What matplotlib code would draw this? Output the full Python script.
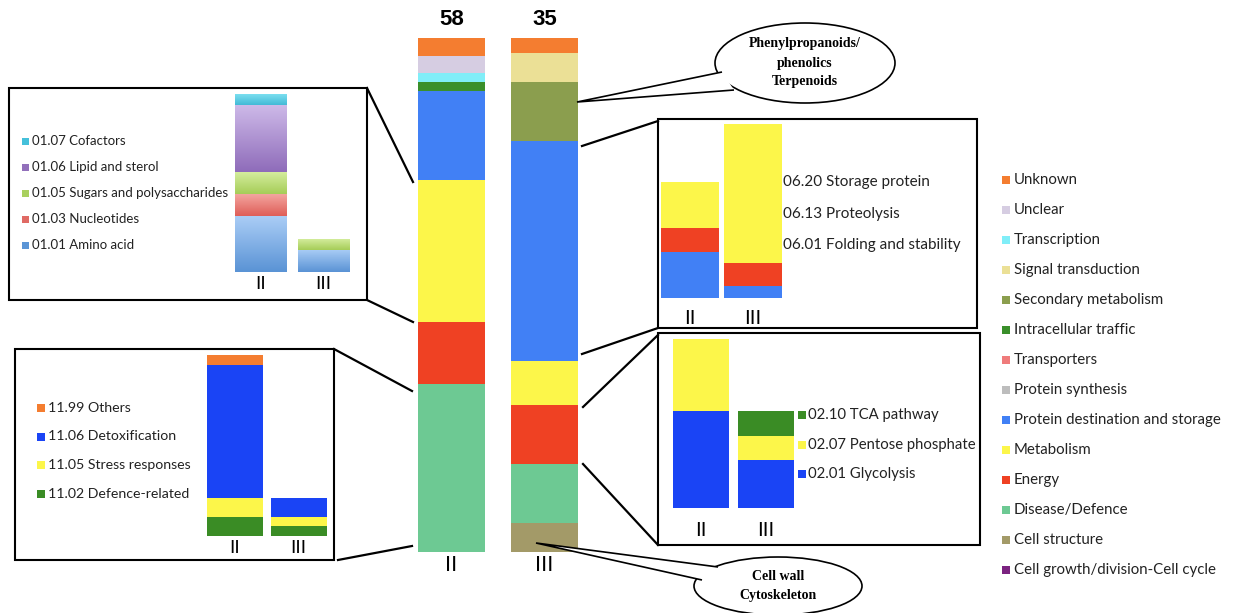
import matplotlib
matplotlib.use("Agg")
import matplotlib.pyplot as plt
from matplotlib.patches import Rectangle, Ellipse, Polygon
from matplotlib.lines import Line2D
from matplotlib.colors import LinearSegmentedColormap
import numpy as np

# ---------------- data ----------------
groups = ["II", "III"]

# main functional categories, stacking order bottom -> top
main_categories = ["Cell growth/division-Cell cycle", "Cell structure", "Disease/Defence",
                   "Energy", "Metabolism", "Protein destination and storage",
                   "Protein synthesis", "Transporters", "Intracellular traffic",
                   "Secondary metabolism", "Signal transduction", "Transcription",
                   "Unclear", "Unknown"]
main_colors = ["#7B2380", "#A39A68", "#6DC993", "#EF4123", "#FCF64A", "#4180F5",
               "#BDBDBD", "#EF7B7B", "#3A8F2A", "#8B9E4E", "#EBE096", "#80EEF8",
               "#D6CDE2", "#F47D30"]
main_II = [0, 0, 19, 7, 16, 10, 0, 0, 1, 0, 0, 1, 2, 2]
main_III = [0, 2, 4, 4, 3, 15, 0, 0, 0, 4, 2, 0, 0, 1]

metab_categories = ["01.01 Amino acid", "01.03 Nucleotides", "01.05 Sugars and polysaccharides",
                    "01.06 Lipid and sterol", "01.07 Cofactors"]
metab_top_colors = ["#AACDF6", "#F4A8A2", "#D6EEA0", "#CDB9E8", "#80E2F2"]
metab_bottom_colors = ["#5A93D5", "#DF5E58", "#A6CD58", "#8F6CBA", "#43BAD6"]
metab_legend_colors = ["#5B95D6", "#E06A64", "#A9D05E", "#9270BB", "#45C0DA"]
metab_II = [5, 2, 2, 6, 1]
metab_III = [2, 0, 1, 0, 0]

defence_categories = ["11.02 Defence-related", "11.05 Stress responses",
                      "11.06 Detoxification", "11.99 Others"]
defence_colors = ["#3A8C25", "#FCF64A", "#1A44F5", "#F47D30"]
defence_II = [2, 2, 14, 1]
defence_III = [1, 1, 2, 0]

protein_categories = ["06.01 Folding and stability", "06.13 Proteolysis", "06.20 Storage protein"]
protein_colors = ["#4180F5", "#EF4123", "#FCF64A"]
protein_II = [4, 2, 4]
protein_III = [1, 2, 12]

energy_categories = ["02.01 Glycolysis", "02.07 Pentose phosphate", "02.10 TCA pathway"]
energy_colors = ["#1A44F5", "#FCF64A", "#3A8C25"]
energy_II = [4, 3, 0]
energy_III = [2, 1, 1]

# ---------------- layout helpers ----------------
W, H = 1236, 613
fig = plt.figure(figsize=(W / 100, H / 100), dpi=100)
fig.patch.set_facecolor("white")
SANS = ["Lato", "DejaVu Sans"]
ARIAL = ["Liberation Sans", "DejaVu Sans"]
SERIF = ["Liberation Serif", "DejaVu Serif"]


def fx(x):
    return x / W


def fy(y):
    return 1 - y / H


def P(x, y):
    return (fx(x), fy(y))


def add_ax(x0, y0, x1, y1):
    ax = fig.add_axes([x0 / W, 1 - y1 / H, (x1 - x0) / W, (y1 - y0) / H])
    ax.set_facecolor("none")
    for s in ax.spines.values():
        s.set_visible(False)
    ax.set_yticks([])
    return ax


def stacked(ax, series, colors, half, ymax, pad_px, label_size, gradient=None):
    x = np.arange(len(groups))
    bottoms = np.zeros(len(groups))
    data = np.array(series, dtype=float)  # shape (ncat, ngroups)
    for i in range(data.shape[0]):
        bars = ax.bar(x, data[i], bottom=bottoms, width=2 * half, color=colors[i], linewidth=0)
        if gradient is not None:
            cmap = LinearSegmentedColormap.from_list("g%d" % i, [gradient[1][i], gradient[0][i]])
            for rect in bars:
                if rect.get_height() <= 0:
                    continue
                rect.set_facecolor("none")
                grad = np.linspace(0, 1, 64).reshape(-1, 1)
                im = ax.imshow(grad, extent=[rect.get_x(), rect.get_x() + rect.get_width(),
                                             rect.get_y(), rect.get_y() + rect.get_height()],
                               origin="lower", aspect="auto", cmap=cmap, zorder=1)
                im.set_clip_path(rect)
        bottoms += data[i]
    ax.set_xlim(-half, len(groups) - 1 + half)
    ax.set_ylim(0, ymax)
    ax.set_xticks(x)
    ax.set_xticklabels(groups, fontsize=label_size, family=ARIAL)
    ax.tick_params(axis="x", length=0, pad=pad_px * 0.72)
    return bottoms


def box(x0, y0, x1, y1):
    fig.patches.append(Rectangle(P(x0, y1), (x1 - x0) / W, (y1 - y0) / H, transform=fig.transFigure,
                                 facecolor="none", edgecolor="black", linewidth=1.5, zorder=5))


def line(x0, y0, x1, y1, lw=1.6):
    fig.add_artist(Line2D([fx(x0), fx(x1)], [fy(y0), fy(y1)], transform=fig.transFigure,
                          color="black", linewidth=lw, zorder=6))


def legend(x_sq, x_txt, y0, dy, labels, colors, size, sq=8, markers=True):
    for i, (lab, c) in enumerate(zip(labels, colors)):
        y = y0 + i * dy
        if markers:
            fig.patches.append(Rectangle(P(x_sq, y + sq / 2), sq / W, sq / H, transform=fig.transFigure,
                                         facecolor=c, edgecolor="none", zorder=4))
        fig.text(fx(x_txt), fy(y), lab, ha="left", va="center", fontsize=size, family=SANS,
                 color="#222222", zorder=4)


# ---------------- main bars ----------------
ax_main = add_ax(418, 38, 578, 552)
main_II_pct = [100 * v / sum(main_II) for v in main_II]
main_III_pct = [100 * v / sum(main_III) for v in main_III]
stacked(ax_main, [[a, b] for a, b in zip(main_II_pct, main_III_pct)], main_colors,
        0.3585, 100, 3, 16)
for i, tot in enumerate([sum(main_II), sum(main_III)]):
    ax_main.text(i, 101.5, str(tot), ha="center", va="bottom", fontsize=16, fontweight="bold",
                 family=ARIAL)

# main legend (top to bottom = reverse stacking)
legend(1002, 1014, 180, 30, main_categories[::-1], main_colors[::-1], 10.8)

# ---------------- inset 1: metabolism ----------------
box(9, 88, 367, 300)
ax1 = add_ax(235, 94, 349, 272)
stacked(ax1, [[a, b] for a, b in zip(metab_II, metab_III)], metab_legend_colors, 0.405,
        sum(metab_II), 4, 14, gradient=(metab_top_colors, metab_bottom_colors))
legend(22, 32, 141, 26, metab_categories[::-1], metab_legend_colors[::-1], 9.5, sq=7)
line(367, 88, 413, 182)
line(367, 300, 413, 322)

# ---------------- inset 2: disease/defence ----------------
box(15, 349, 334, 560)
ax2 = add_ax(207, 355, 326.5, 536)
stacked(ax2, [[a, b] for a, b in zip(defence_II, defence_III)], defence_colors, 0.44,
        sum(defence_II), 4, 14)
legend(37, 48, 408, 28.5, defence_categories[::-1], defence_colors[::-1], 10.2, sq=8)
line(334, 349, 412, 391)
line(338, 560, 412, 546)

# ---------------- inset 3: protein destination ----------------
box(658, 119, 977, 328)
ax3 = add_ax(661, 124, 782, 298)
stacked(ax3, [[a, b] for a, b in zip(protein_II, protein_III)], protein_colors, 0.46,
        sum(protein_III), 11, 15)
legend(775, 783, 182, 31.5, protein_categories[::-1], protein_colors[::-1], 11, markers=False)
line(582, 146, 658, 121)
line(582, 354, 658, 328)

# ---------------- inset 4: energy ----------------
box(658, 333, 980, 545)
ax4 = add_ax(673, 339, 794, 508)
stacked(ax4, [[a, b] for a, b in zip(energy_II, energy_III)], energy_colors, 0.43,
        sum(energy_II), 13, 15)
legend(798, 808, 415, 29.5, energy_categories[::-1], energy_colors[::-1], 10.7, sq=8)
line(583, 407, 658, 335)
line(583, 464, 658, 545)


# ---------------- callout bubbles ----------------
def bubble(cx, cy, w, h, tip, base1, base2, lines_txt, size, line_dy):
    e = Ellipse(P(cx, cy), w / W, h / H, transform=fig.transFigure, facecolor="white",
                edgecolor="black", linewidth=1.2, zorder=7)
    fig.patches.append(e)
    poly = Polygon([P(*base1), P(*tip), P(*base2)], closed=False, transform=fig.transFigure,
                   facecolor="white", edgecolor="black", linewidth=1.2, zorder=8)
    fig.patches.append(poly)
    n = len(lines_txt)
    for i, t in enumerate(lines_txt):
        y = cy + (i - (n - 1) / 2) * line_dy
        fig.text(fx(cx), fy(y), t, ha="center", va="center", fontsize=size, family=SERIF,
                 fontweight="bold", zorder=9)


bubble(805, 63, 180, 80, (577, 102), (722, 72), (734, 90),
       ["Phenylpropanoids/", "phenolics", "Terpenoids"], 10, 19)
bubble(778, 586, 168, 58, (536, 543), (718, 567), (702, 580),
       ["Cell wall", "Cytoskeleton"], 10, 20)

fig.savefig("out.png", dpi=100, facecolor="white")
